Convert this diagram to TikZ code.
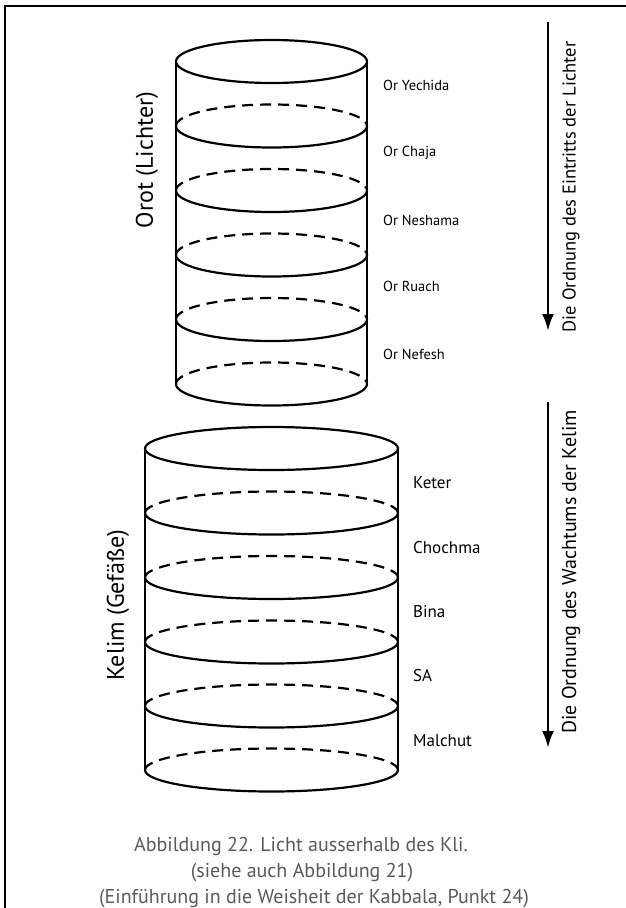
\documentclass[tikz,border=0pt]{standalone}
\usepackage{fontspec}
\setmainfont{PT Sans}
\usetikzlibrary{arrows.meta}
\definecolor{capgray}{HTML}{5A5A5A}
\tikzset{
  cyl/.style={line width=2.2pt, black},
  back/.style={cyl, dash pattern=on 11pt off 7pt},
  toplbl/.style={anchor=west, font=\fontsize{14.5}{16}\selectfont, inner sep=0pt},
  botlbl/.style={anchor=west, font=\fontsize{17}{18}\selectfont, inner sep=0pt},
  sidelbl/.style={rotate=90, font=\fontsize{24}{26}\selectfont, inner sep=0pt},
  arrlbl/.style={rotate=90, inner sep=0pt},
  caption/.style={font=\fontsize{20}{22}\selectfont, text=capgray, inner sep=0pt},
  order/.style={line width=2.6pt, -{Latex[length=17pt,width=12pt]}}
}
\begin{document}
\begin{tikzpicture}[x=1pt,y=-1pt]
\useasboundingbox (0,0) rectangle (626,908);
\fill[white] (0,0) rectangle (626,908);
% frame (top and left)
\draw[line width=2.2pt] (5,908) -- (5,6) -- (626,6);

% ---- upper cylinder (Orot)
\def\cx{271.5}
\def\rxa{95.5}
\def\ry{21.5}
\draw[cyl] (\cx,61.5) ellipse [x radius=\rxa, y radius=\ry];
\draw[cyl] (\cx-\rxa,61.5) -- (\cx-\rxa,384);
\draw[cyl] (\cx+\rxa,61.5) -- (\cx+\rxa,384);
\foreach \yy in {126,190.5,255,319.5,384}{
  \draw[back] (\cx-\rxa,\yy) arc [start angle=180, end angle=360, x radius=\rxa, y radius=\ry];
  \draw[cyl] (\cx+\rxa,\yy) arc [start angle=0, end angle=180, x radius=\rxa, y radius=\ry];
}
\node[toplbl] (yechida) at (383,85) {Or Yechida};
\node[toplbl] (chaja) at (383,153) {Or Chaja};
\node[toplbl] (neshama) at (383,220) {Or Neshama};
\node[toplbl] (ruach) at (383,286) {Or Ruach};
\node[toplbl] (nefesh) at (383,354) {Or Nefesh};
\node[sidelbl] (orot) at (147,160) {Orot (Lichter)};

% ---- lower cylinder (Kelim)
\def\rxb{126.5}
\draw[cyl] (\cx,448.5) ellipse [x radius=\rxb, y radius=\ry];
\draw[cyl] (\cx-\rxb,448.5) -- (\cx-\rxb,770);
\draw[cyl] (\cx+\rxb,448.5) -- (\cx+\rxb,770);
\foreach \yy in {513,577.5,642,706,770}{
  \draw[back] (\cx-\rxb,\yy) arc [start angle=180, end angle=360, x radius=\rxb, y radius=\ry];
  \draw[cyl] (\cx+\rxb,\yy) arc [start angle=0, end angle=180, x radius=\rxb, y radius=\ry];
}
\node[botlbl] (keter) at (413,483) {Keter};
\node[botlbl] (chochma) at (413,548) {Chochma};
\node[botlbl] (bina) at (413,612) {Bina};
\node[botlbl] (sa) at (413,676) {SA};
\node[botlbl] (malchut) at (413,741) {Malchut};
\node[sidelbl] (kelim) at (118,605) {Kelim (Gefäße)};

% ---- order arrows
\coordinate (a1s) at (548,22);
\coordinate (a1e) at (548,331);
\draw[order] (a1s) -- (a1e);
\node[arrlbl, font=\fontsize{18.5}{20}\selectfont] (eintritt) at (571,187) {Die Ordnung des Eintritts der Lichter};
\coordinate (a2s) at (548,402);
\coordinate (a2e) at (548,748);
\draw[order] (a2s) -- (a2e);
\node[arrlbl, font=\fontsize{20}{22}\selectfont] (wachstum) at (571,572) {Die Ordnung des Wachtums der Kelim};

% ---- caption
\node[caption] (cap1) at (301,846) {Abbildung 22. Licht ausserhalb des Kli.};
\node[caption] (cap2) at (302,873) {(siehe auch Abbildung 21)};
\node[caption] (cap3) at (314,899) {(Einführung in die Weisheit der Kabbala, Punkt 24)};
\end{tikzpicture}
\end{document}
